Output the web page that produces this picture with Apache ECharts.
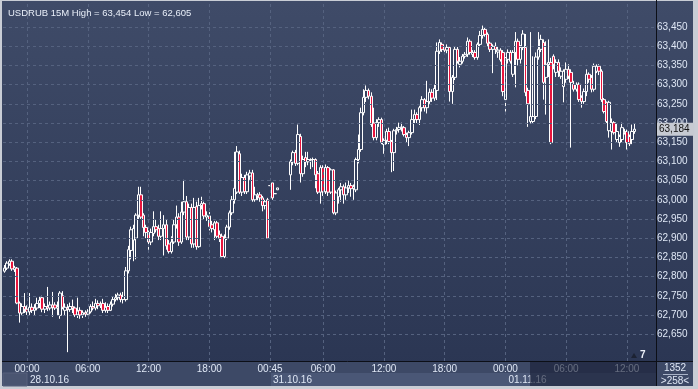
<!DOCTYPE html>
<html>
<head>
<meta charset="utf-8">
<script src="https://cdn.jsdelivr.net/npm/echarts@6/dist/echarts.min.js"></script>
<style>
html,body{margin:0;padding:0;background:#c9cdd5;}
#chart{width:698px;height:389px;}
</style>
</head>
<body>
<div id="chart"></div>
<script>
// ---- data (price in thousandths: 63184 = 63,184) ----
const sessions = [
  {date: '27.10.16', startMin: 21 * 60 + 45, count: 9},
  {date: '28.10.16', startMin: 0, count: 96},
  {date: '31.10.16', startMin: 45, count: 93},
  {date: '01.11.16', startMin: 0, count: 60}
];
const tickIndex = [9, 33, 57, 81, 105, 126, 150, 174, 198, 222, 246];
const tickText = ['00:00', '06:00', '12:00', '18:00', '00:45', '06:00', '12:00', '18:00', '00:00', '06:00', '12:00'];
const dateIndex = [9, 105, 198];
const dateText = ['28.10.16', '31.10.16', '01.11.16'];
const yTicks = [62650, 62700, 62750, 62800, 62850, 62900, 62950, 63000, 63050, 63100, 63150, 63200, 63250, 63300, 63350, 63400, 63450];
const lastPrice = 63184;
const title = 'USDRUB 15M High = 63,454 Low = 62,605';

// [open, close, low, high]
const ohlc = [
[62814,62822,62810,62830],[62822,62835,62817,62840],[62833,62840,62828,62845],[62840,62820,62815,62845],
[62818,62823,62812,62828],[62822,62731,62728,62825],[62731,62705,62680,62735],[62705,62722,62700,62730],
[62722,62715,62705,62757],[62715,62708,62700,62725],[62708,62720,62700,62757],[62720,62712,62705,62730],
[62712,62718,62700,62728],[62718,62730,62712,62745],[62730,62738,62718,62748],[62745,62715,62707,62750],
[62715,62722,62705,62730],[62722,62718,62710,62773],[62718,62726,62712,62735],[62726,62720,62695,62760],
[62726,62718,62713,62733],[62718,62722,62700,62735],[62699,62757,62690,62762],[62750,62720,62715,62762],
[62712,62720,62700,62730],[62718,62714,62603,62728],[62714,62722,62708,62732],[62722,62718,62705,62740],
[62718,62700,62695,62722],[62700,62710,62692,62745],[62712,62700,62690,62720],[62700,62706,62692,62712],
[62706,62702,62695,62712],[62702,62708,62698,62715],[62708,62722,62704,62728],[62722,62718,62712,62735],
[62718,62730,62712,62742],[62730,62724,62715,62738],[62724,62728,62718,62735],[62730,62712,62705,62742],
[62712,62720,62706,62733],[62722,62712,62705,62730],[62712,62728,62710,62735],[62728,62740,62722,62748],
[62740,62745,62735,62755],[62745,62752,62738,62758],[62752,62740,62733,62758],[62740,62748,62730,62760],
[62740,62815,62735,62825],[62815,62870,62808,62880],[62868,62922,62845,62930],[62895,62925,62840,62935],
[62900,62960,62845,62965],[62960,63013,62950,63034],[63013,62955,62950,63034],[62960,62928,62905,62965],
[62928,62915,62900,62935],[62915,62890,62870,62920],[62890,62915,62882,62925],[62912,62930,62905,62970],
[62930,62922,62915,62950],[62925,62905,62895,62935],[62905,62925,62895,62970],[62925,62935,62855,62960],
[62935,62880,62870,62950],[62885,62865,62860,62895],[62865,62890,62860,62905],[62890,62935,62885,62950],
[62935,62955,62925,62985],[62955,62890,62880,62965],[62890,62968,62885,62995],[62968,62995,62960,63052],
[62995,62903,62895,63010],[62903,62980,62895,62990],[62980,62885,62875,62990],[62885,62980,62875,63005],
[62982,62878,62870,62995],[62878,62985,62875,63005],[62985,62990,62975,63008],[62990,62958,62950,62995],
[62955,62960,62945,62970],[62958,62930,62920,62968],[62935,62925,62915,62945],[62922,62940,62895,62945],
[62940,62905,62900,62945],[62910,62900,62890,62920],[62905,62852,62848,62912],[62852,62900,62848,62910],
[62900,62929,62895,62935],[62929,62966,62922,62972],[62966,63000,62960,63010],[63000,63030,62990,63125],
[63020,63125,63015,63140],[63120,63020,63015,63128],[63020,63058,63010,63068],[63058,63021,63015,63065],
[63021,63065,63015,63073],[63062,63070,63052,63078],[63070,63000,62995,63078],[63000,63013,62995,63034],
[63010,63013,62998,63018],[63013,63005,62995,63020],[63005,62985,62970,63010],[62985,62995,62975,63000],
[63000,62900,62898,63005],
[63037,63037,63037,63037],[63044,63005,63000,63044],[63016,63016,63016,63016],[63026,63031,63026,63031],
['-','-','-','-'],['-','-','-','-'],['-','-','-','-'],['-','-','-','-'],
[63065,63099,63026,63105],[63099,63123,63090,63128],[63123,63095,63088,63130],[63095,63170,63090,63196],
[63165,63068,63045,63172],[63068,63105,63060,63115],[63110,63099,63085,63125],[63099,63105,63090,63125],
[63103,63105,63080,63108],[63105,63105,63085,63110],[63105,63065,63030,63108],[63068,63020,63015,63075],
[63020,63084,62990,63090],[63084,63021,63010,63090],[63021,63084,63015,63092],[63084,63020,63010,63088],
[63020,63078,63015,63082],[63078,62966,62962,63080],[62966,63018,62960,63024],[63008,63026,62990,63031],
[63026,63034,62995,63044],[63034,63013,62990,63040],[63013,63031,63000,63045],[63031,63037,63018,63050],
[63037,63029,63008,63044],[63029,63034,63000,63040],[63026,63105,63020,63110],[63105,63131,63095,63170],
[63131,63227,63125,63240],[63227,63267,63220,63288],[63267,63285,63255,63298],[63285,63270,63262,63290],
[63270,63196,63190,63280],[63200,63162,63155,63240],[63162,63201,63155,63210],[63201,63209,63190,63215],
[63209,63150,63145,63214],[63144,63155,63120,63160],[63155,63178,63145,63185],[63178,63152,63145,63188],
[63152,63123,63072,63156],[63123,63180,63075,63185],[63180,63183,63170,63190],[63183,63188,63175,63201],
[63188,63190,63178,63201],[63188,63170,63165,63192],[63170,63162,63150,63175],[63162,63175,63140,63180],
[63175,63209,63170,63235],[63209,63222,63200,63235],[63222,63209,63200,63228],[63209,63240,63195,63245],
[63240,63261,63230,63270],[63261,63240,63230,63265],[63240,63256,63225,63310],[63256,63280,63250,63290],
[63280,63265,63255,63288],[63265,63290,63258,63300],[63285,63387,63260,63410],[63387,63410,63380,63418],
[63405,63392,63385,63410],[63395,63390,63380,63400],[63390,63397,63382,63405],[63397,63282,63256,63400],
[63282,63319,63250,63325],[63319,63392,63312,63400],[63392,63361,63355,63398],[63353,63361,63345,63372],
[63361,63374,63355,63380],[63374,63379,63368,63385],[63379,63413,63372,63423],[63413,63384,63378,63418],
[63379,63384,63372,63390],[63384,63371,63365,63390],[63371,63405,63365,63410],[63405,63428,63398,63440],
[63428,63444,63420,63454],[63444,63431,63425,63450],[63431,63408,63400,63436],[63408,63392,63385,63412],
[63392,63400,63330,63405],[63400,63392,63380,63410],[63385,63390,63370,63400],[63390,63365,63360,63395],
[63384,63282,63270,63390],[63261,63366,63230,63372],[63366,63384,63355,63392],[63384,63361,63355,63390],
[63327,63384,63320,63390],[63384,63413,63293,63437],[63413,63366,63350,63420],[63366,63397,63355,63403],
[63397,63432,63390,63442],[63397,63280,63270,63432],[63285,63250,63190,63292],[63204,63217,63199,63437],
[63204,63217,63199,63374],[63217,63372,63210,63384],[63372,63392,63365,63437],[63392,63418,63385,63430],
[63410,63306,63261,63418],[63319,63353,63222,63413],[63353,63358,63320,63418],[63358,63149,63145,63370],
[63374,63353,63340,63379],[63332,63358,63320,63366],[63358,63335,63320,63366],[63322,63335,63315,63345],
[63295,63335,63254,63340],[63314,63340,63305,63358],[63340,63322,63315,63353],[63332,63306,63136,63340],
[63301,63288,63282,63310],[63288,63301,63282,63306],[63301,63261,63255,63306],[63267,63256,63240,63272],
[63256,63282,63250,63290],[63282,63327,63270,63340],[63327,63314,63305,63332],[63319,63288,63280,63325],
[63288,63348,63282,63355],[63335,63348,63330,63353],[63348,63335,63325,63353],[63335,63261,63255,63340],
[63261,63230,63225,63265],[63254,63204,63200,63256],[63180,63254,63162,63258],[63178,63201,63131,63212],
[63201,63175,63170,63205],[63157,63178,63150,63199],[63149,63165,63138,63170],[63157,63188,63150,63201],
[63175,63178,63170,63185],[63178,63149,63131,63183],[63165,63146,63140,63170],[63157,63178,63145,63196],
[63178,63184,63172,63199]
];

// ---- categories (15-minute bars) ----
const categories = [];
sessions.forEach(s => {
  for (let k = 0; k < s.count; k++) {
    const m = s.startMin + k * 15;
    const hh = String(Math.floor(m / 60)).padStart(2, '0');
    const mm = String(m % 60).padStart(2, '0');
    categories.push(s.date + ' ' + hh + ':' + mm);
  }
});

const fmtPrice = v => (v / 1000).toFixed(3).replace('.', ',');
const FONT = "'Liberation Sans', Arial, sans-serif";
const LBL = '#dfe7f5';

const chart = echarts.init(document.getElementById('chart'), null, {renderer: 'canvas'});

const tickMap = {}; tickIndex.forEach((i, k) => tickMap[i] = tickText[k]);
const dateMap = {}; dateIndex.forEach((i, k) => dateMap[i] = dateText[k]);

chart.setOption({
  animation: false,
  backgroundColor: '#c9cdd5',
  title: {
    text: title, left: 3, top: 3,
    textStyle: {color: '#e8eef8', fontSize: 9.5, fontWeight: 'normal', fontFamily: FONT}
  },
  grid: {left: 3, right: 42, top: 1, bottom: 28, containLabel: false},
  xAxis: [{
    type: 'category', data: categories, boundaryGap: true,
    axisLine: {show: false}, axisTick: {show: false}, splitLine: {show: false},
    axisLabel: {
      color: LBL, fontSize: 10, fontFamily: FONT, margin: 3,
      interval: (i) => tickMap[i] !== undefined,
      formatter: (v, i) => tickMap[i] || ''
    }
  }, {
    type: 'category', data: categories, boundaryGap: true, position: 'bottom', offset: 11,
    axisLine: {show: false}, axisTick: {show: false}, splitLine: {show: false},
    axisLabel: {
      color: LBL, fontSize: 10, fontFamily: FONT, margin: 3, align: 'left', padding: [0, 0, 0, 3],
      interval: (i) => dateMap[i] !== undefined,
      formatter: (v, i) => dateMap[i] || ''
    }
  }],
  yAxis: {
    type: 'value', position: 'right', min: 62580, max: 63518,
    axisLine: {show: false}, axisTick: {show: false}, splitLine: {show: false},
    axisLabel: {show: false}
  },
  graphic: [
    {type: 'rect', z: -100, shape: {x: 2, y: 1, width: 691, height: 385},
      style: {fill: new echarts.graphic.LinearGradient(0, 0, 0, 1, [
        {offset: 0, color: '#3f4b68'}, {offset: 1, color: '#2a3552'}])}},
    {type: 'rect', z: -90, shape: {x: 2, y: 361, width: 691, height: 25}, style: {fill: '#3d4966'}},
    {type: 'rect', z: -89, shape: {x: 3, y: 373, width: 24, height: 13}, style: {fill: '#4a5571', stroke: '#56617c', lineWidth: 1}},
    {type: 'rect', z: -89, shape: {x: 271, y: 373, width: 385, height: 13}, style: {fill: '#4a5776'}},
    {type: 'rect', z: 100, shape: {x: 530, y: 362, width: 126, height: 24}, style: {fill: 'rgba(24,31,54,0.62)'}},
    {type: 'line', z: 101, shape: {x1: 656.5, y1: 0, x2: 656.5, y2: 386}, style: {stroke: '#0c0f17', lineWidth: 1}},
    {type: 'line', z: 101, shape: {x1: 2, y1: 361.5, x2: 693, y2: 361.5}, style: {stroke: '#0c0f17', lineWidth: 1}},
    {type: 'text', z: 101, style: {text: '1352', x: 675, y: 368, fill: LBL, font: '10px ' + FONT, textAlign: 'center', textVerticalAlign: 'middle'}},
    {type: 'line', z: 101, shape: {x1: 663, y1: 374.5, x2: 688, y2: 374.5}, style: {stroke: '#aab4c8', lineWidth: 1}},
    {type: 'text', z: 101, style: {text: '>258<', x: 675, y: 381, fill: LBL, font: '10px ' + FONT, textAlign: 'center', textVerticalAlign: 'middle'}},
    {type: 'polygon', z: 101, shape: {points: [[631, 358], [637, 358], [634, 353]]}, style: {fill: '#1c2233'}},
    {type: 'text', z: 101, style: {text: '7', x: 640, y: 355, fill: '#eef2fa', font: 'bold 10px ' + FONT, textVerticalAlign: 'middle'}}
  ],
  series: [{
    // horizontal price grid + right-hand price labels
    type: 'line', data: [], z: 1, silent: true,
    markLine: {
      symbol: 'none', silent: true, animation: false,
      lineStyle: {color: '#55627f', type: [3, 3], width: 1},
      label: {show: true, position: 'end', distance: 1, color: LBL, fontSize: 10, fontFamily: FONT,
        formatter: p => fmtPrice(p.value)},
      data: yTicks.map(v => ({yAxis: v}))
    }
  }, {
    // vertical time grid
    type: 'line', data: [], z: 1, silent: true,
    markLine: {
      symbol: 'none', silent: true, animation: false,
      label: {show: false},
      lineStyle: {color: '#55627f', type: [3, 3], width: 1},
      data: tickIndex.map(i => ({xAxis: categories[i]}))
    }
  }, {
    // current price tag
    type: 'line', data: [], z: 5, silent: true,
    markLine: {
      symbol: 'none', silent: true, animation: false,
      lineStyle: {color: 'rgba(0,0,0,0)', width: 0},
      label: {
        show: true, position: 'end', distance: 1, formatter: () => fmtPrice(lastPrice),
        color: '#111', backgroundColor: '#c6cad2', padding: [2, 5, 1, 2],
        fontSize: 10, fontFamily: FONT
      },
      data: [{yAxis: lastPrice}]
    }
  }, {
    type: 'candlestick', data: ohlc, z: 3, barWidth: 3,
    itemStyle: {color: '#35415e', color0: '#e8143c', borderColor: '#ffffff', borderColor0: '#ffffff', borderWidth: 1}
  }]
});
</script>
</body>
</html>
